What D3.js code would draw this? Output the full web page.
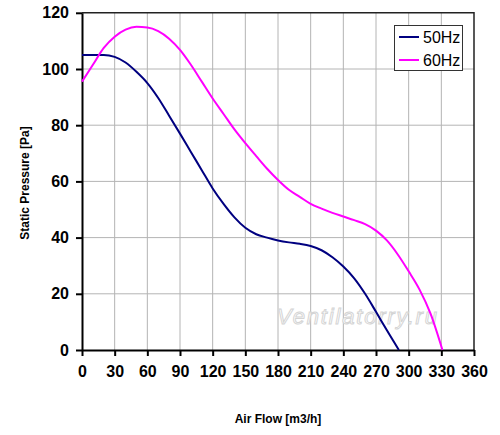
<!DOCTYPE html>
<html><head><meta charset="utf-8">
<script src="https://cdn.jsdelivr.net/npm/d3@7"></script>
<style>body{margin:0;background:#fff}svg{display:block;font-family:Arial,"Liberation Sans",sans-serif}</style>
</head><body>
<script>
const xTicks = [0,30,60,90,120,150,180,210,240,270,300,330,360];
const yTicks = [0,20,40,60,80,100,120];
const seriesNames = ["50Hz","60Hz"];
const seriesColors = ["#000080","#ff00ff"];
const flow50 = [0,10,20,30,40,50,60,70,80,90,100,110,120,130,140,150,160,170,180,190,200,210,220,230,240,250,260,270,280,291];
const press50 = [105,105,105,104.3,102.3,99,95,89.7,83.4,77,70.5,64,57.5,52,47.2,43.5,41.2,40,39,38.3,37.8,37,35.5,33,29.7,25.5,20,13.6,7,0];
const flow60 = [0,10,20,30,40,50,60,70,80,90,100,110,120,130,140,150,160,170,180,190,200,210,220,230,240,250,260,270,280,290,300,310,320,331];
const press60 = [95.5,101.5,107.5,111.5,114,115,114.8,113.5,110.8,106.8,101.5,95.5,89.5,84,78.5,73.6,69,64.5,60.5,57,54.5,52,50.3,48.8,47.5,46.2,44.8,42.5,39,34,28,21.5,13,0];
const xTitle = "Air Flow [m3/h]";
const yTitle = "Static Pressure [Pa]";
const watermark = "Ventilatorry.ru";

const W=500,H=435;
const svg=d3.select("body").append("svg").attr("width",W).attr("height",H);
const x=d3.scaleLinear().domain([0,360]).range([82,474]);
const y=d3.scaleLinear().domain([0,120]).range([350,12.8]);

// grid
svg.append("g").selectAll("line").data(xTicks.slice(1,-1)).join("line")
 .attr("x1",d=>x(d)).attr("x2",d=>x(d)).attr("y1",y(0)).attr("y2",y(120))
 .attr("stroke","#b4b4b4").attr("stroke-width",1);
svg.append("g").selectAll("line").data(yTicks.slice(1,-1)).join("line")
 .attr("y1",d=>y(d)).attr("y2",d=>y(d)).attr("x1",x(0)).attr("x2",x(360))
 .attr("stroke","#b4b4b4").attr("stroke-width",1);

// watermark
svg.append("text").attr("x",277).attr("y",324).text(watermark)
 .attr("font-size",22).attr("font-style","italic").attr("textLength",160)
 .attr("fill","#fff").attr("stroke","#d4d4d4").attr("stroke-width",1);

// frame top/right
svg.append("path").attr("d",`M${x(0)},${y(120)}H${x(360)}V${y(0)}`)
 .attr("fill","none").attr("stroke","#222").attr("stroke-width",1.5);

// axes
const xAxis=svg.append("g").attr("transform",`translate(0,${y(0)})`)
 .call(d3.axisBottom(x).tickValues(xTicks).tickSize(6).tickPadding(10).tickSizeOuter(0));
const yAxis=svg.append("g").attr("transform",`translate(${x(0)},0)`)
 .call(d3.axisLeft(y).tickValues(yTicks).tickSize(6).tickPadding(7).tickSizeOuter(0));
[xAxis,yAxis].forEach(g=>{
 g.select(".domain").attr("stroke","#000").attr("stroke-width",2);
 g.selectAll(".tick line").attr("stroke","#000").attr("stroke-width",2);
 g.selectAll(".tick text").attr("fill","#000").attr("font-size",16).attr("font-weight","bold")
  .attr("font-family",'Arial,"Liberation Sans",sans-serif');
});

// lines
const line=d3.line().x(d=>x(d[0])).y(d=>y(d[1])).curve(d3.curveMonotoneX);
const data=[d3.zip(flow50,press50),d3.zip(flow60,press60)];
svg.append("g").selectAll("path").data(data).join("path")
 .attr("d",line).attr("fill","none").attr("stroke",(d,i)=>seriesColors[i]).attr("stroke-width",2);

// titles
svg.append("text").attr("x",278).attr("y",423).attr("text-anchor","middle")
 .attr("font-size",12).attr("font-weight","bold").text(xTitle);
svg.append("text").attr("transform","translate(29,183) rotate(-90)").attr("text-anchor","middle")
 .attr("font-size",12).attr("font-weight","bold").text(yTitle);

// legend
const lg=svg.append("g");
lg.append("rect").attr("x",394.5).attr("y",25.5).attr("width",68).attr("height",45)
 .attr("fill","#fff").attr("stroke","#333").attr("stroke-width",1);
seriesNames.forEach((n,i)=>{
 const yy=37+i*23;
 lg.append("line").attr("x1",399).attr("x2",419).attr("y1",yy).attr("y2",yy)
  .attr("stroke",seriesColors[i]).attr("stroke-width",2);
 lg.append("text").attr("x",423).attr("y",yy).attr("dy","0.36em").attr("font-size",16).text(n);
});
</script>
</body></html>
